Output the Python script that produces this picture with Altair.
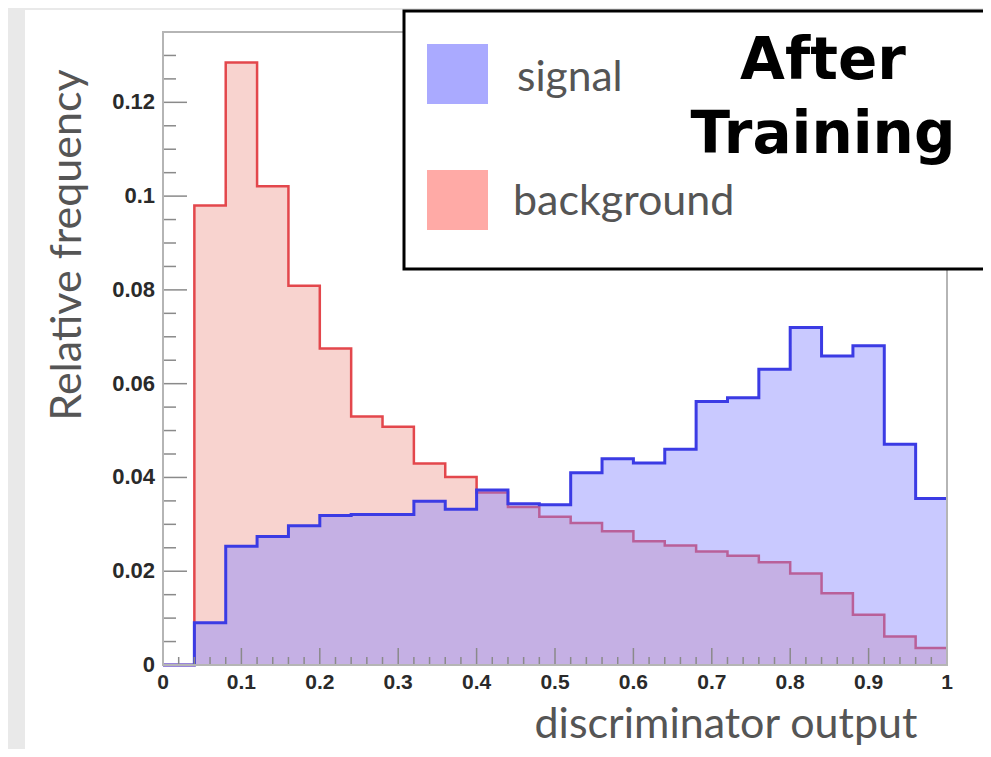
import altair as alt
import pandas as pd

# ---------------- data ----------------
bin_edges = [round(i * 0.04, 2) for i in range(26)]          # 25 bins of width 0.04
signal = [0.0, 0.0090, 0.0253, 0.0274, 0.0297, 0.0319, 0.0321, 0.0321, 0.0349, 0.0332,
          0.0373, 0.0344, 0.0342, 0.0410, 0.0440, 0.0431, 0.0460, 0.0562, 0.0570, 0.0631,
          0.0720, 0.0659, 0.0681, 0.0471, 0.0355]
background = [0.0, 0.0980, 0.1285, 0.1021, 0.0809, 0.0675, 0.0530, 0.0508, 0.0430, 0.0401,
              0.0368, 0.0337, 0.0316, 0.0303, 0.0285, 0.0264, 0.0255, 0.0242, 0.0233, 0.0219,
              0.0195, 0.0153, 0.0107, 0.0061, 0.0036]
x_tick_labels = [0, 0.1, 0.2, 0.3, 0.4, 0.5, 0.6, 0.7, 0.8, 0.9, 1]
x_minor_ticks = [round(i * 0.02, 2) for i in range(51) if i % 5 != 0]
y_tick_labels = [0, 0.02, 0.04, 0.06, 0.08, 0.1, 0.12]
y_minor_ticks = [round(i * 0.005, 3) for i in range(27) if i % 4 != 0]
legend_labels = ["signal", "background"]
title_lines = ["After", "Training"]
x_title = "discriminator output"
y_title = "Relative frequency"

# ---------------- layout ----------------
W, H = 784, 633
xs = alt.Scale(domain=[0, 1], nice=False, zero=False)
ys = alt.Scale(domain=[0, 0.135], nice=False)
one = pd.DataFrame({"k": [0]})


def step_frame(vals):
    return pd.DataFrame({"x": bin_edges, "y": vals + [vals[-1]]})


def X(field):
    return alt.X(field, scale=xs, axis=None)


def Y(field):
    return alt.Y(field, scale=ys, axis=None)


# grey page strips outside the white panel
strip_left = alt.Chart(one).mark_rect(color="#e9e9e9").encode(
    x=alt.value(-160), x2=alt.value(-138), y=alt.value(-30), y2=alt.value(H + 120))
strip_top = alt.Chart(one).mark_rect(color="#e9e9e9").encode(
    x=alt.value(-160), x2=alt.value(W + 60), y=alt.value(-30), y2=alt.value(-22))

bg_area = alt.Chart(step_frame(background)).mark_area(
    interpolate="step-after", color="#f8d3cf", opacity=1).encode(x=X("x:Q"), y=Y("y:Q"))
bg_line = alt.Chart(step_frame(background)).mark_line(
    interpolate="step-after", color="#e3474c", strokeWidth=2.5).encode(x=X("x:Q"), y=Y("y:Q"))
sig_area = alt.Chart(step_frame(signal)).mark_area(
    interpolate="step-after", color="#8282ff", opacity=0.43).encode(x=X("x:Q"), y=Y("y:Q"))
sig_line = alt.Chart(step_frame(signal)).mark_line(
    interpolate="step-after", color="#3b3be4", strokeWidth=3).encode(x=X("x:Q"), y=Y("y:Q"))

tick_col = "#8a8a8a"
ymaj = alt.Chart(pd.DataFrame({"v": y_tick_labels})).mark_rule(color=tick_col, strokeWidth=1.5).encode(
    y=Y("v:Q"), x=alt.value(0), x2=alt.value(24))
ymin = alt.Chart(pd.DataFrame({"v": y_minor_ticks})).mark_rule(color=tick_col, strokeWidth=1.5).encode(
    y=Y("v:Q"), x=alt.value(0), x2=alt.value(13))
xmaj = alt.Chart(pd.DataFrame({"v": x_tick_labels})).mark_rule(color=tick_col, strokeWidth=1.5).encode(
    x=X("v:Q"), y=alt.value(H), y2=alt.value(H - 17))
xmin = alt.Chart(pd.DataFrame({"v": x_minor_ticks})).mark_rule(color=tick_col, strokeWidth=1.5).encode(
    x=X("v:Q"), y=alt.value(H), y2=alt.value(H - 8))

# tick labels (positioned through the scales)
xlab = alt.Chart(pd.DataFrame({"v": x_tick_labels})).mark_text(
    font="Liberation Sans", fontSize=21, fontWeight="bold", color="#2a2a2a",
    align="center", baseline="top").encode(
    x=X("v:Q"), y=alt.value(H + 7), text=alt.Text("v:Q", format="~g"))
ylab = alt.Chart(pd.DataFrame({"v": y_tick_labels})).mark_text(
    font="Liberation Sans", fontSize=22, fontWeight="bold", color="#2a2a2a",
    align="right", baseline="middle").encode(
    y=Y("v:Q"), x=alt.value(-8), text=alt.Text("v:Q", format="~g"))

xtitle = alt.Chart(one).mark_text(text=x_title, font="Lato", fontSize=43, color="#555555",
                                  align="center", baseline="alphabetic").encode(
    x=alt.value(563), y=alt.value(H + 73))
ytitle = alt.Chart(one).mark_text(text=y_title, font="Lato", fontSize=43, color="#555555",
                                  align="center", baseline="alphabetic", angle=270).encode(
    x=alt.value(-82), y=alt.value(213))

frame = alt.Chart(one).mark_rect(fillOpacity=0, stroke="#b5b5b5", strokeWidth=2).encode(
    x=alt.value(0), x2=alt.value(W), y=alt.value(0), y2=alt.value(H))

leg_box = alt.Chart(one).mark_rect(fill="white", stroke="black", strokeWidth=3).encode(
    x=alt.value(241), x2=alt.value(W + 60), y=alt.value(-21), y2=alt.value(237))
sw_sig = alt.Chart(one).mark_rect(color="#aaaaff").encode(
    x=alt.value(264), x2=alt.value(325), y=alt.value(12), y2=alt.value(72))
sw_bg = alt.Chart(one).mark_rect(color="#ffaaa6").encode(
    x=alt.value(264), x2=alt.value(325), y=alt.value(138), y2=alt.value(198))
txt_sig = alt.Chart(one).mark_text(text=legend_labels[0], font="Lato", fontSize=42.5, color="#555555",
                                   align="left", baseline="alphabetic").encode(
    x=alt.value(354), y=alt.value(59))
txt_bg = alt.Chart(one).mark_text(text=legend_labels[1], font="Lato", fontSize=43, color="#555555",
                                  align="left", baseline="alphabetic").encode(
    x=alt.value(350), y=alt.value(183))
t1 = alt.Chart(one).mark_text(text=title_lines[0], font="DejaVu Sans", fontWeight="bold", fontSize=58,
                              color="black", align="center", baseline="alphabetic").encode(
    x=alt.value(660), y=alt.value(47))
t2 = alt.Chart(one).mark_text(text=title_lines[1], font="DejaVu Sans", fontWeight="bold", fontSize=58,
                              color="black", align="center", baseline="alphabetic").encode(
    x=alt.value(660), y=alt.value(121))

chart = alt.layer(
    strip_left, strip_top, bg_area, bg_line, sig_area, sig_line, ymaj, ymin, xmaj, xmin, frame,
    xlab, ylab, xtitle, ytitle,
    leg_box, sw_sig, sw_bg, txt_sig, txt_bg, t1, t2
).properties(
    width=W, height=H,
    padding={"left": 155, "top": 24, "right": 36, "bottom": 84},
    autosize=alt.AutoSizeParams(type="none"),
).configure(background="white").configure_view(stroke=None)

chart.save("out.html", embed_options={"renderer": "svg", "actions": False})
